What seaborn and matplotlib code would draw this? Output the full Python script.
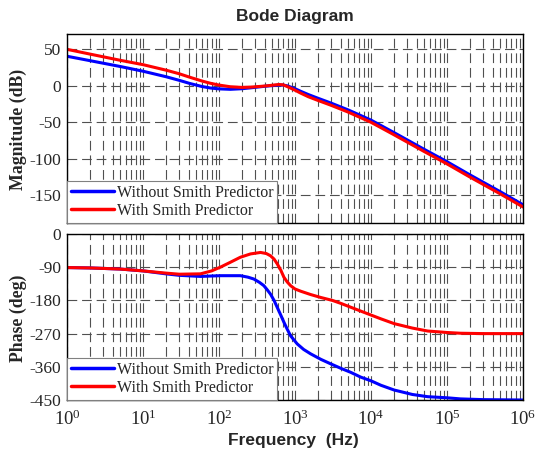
import numpy as np
import pandas as pd
import matplotlib
matplotlib.use("Agg")
import matplotlib.pyplot as plt
import matplotlib.ticker as mticker
import seaborn as sns

# magnitude (dB)
mag_freq_without = [1, 2, 5, 10, 20, 30, 42, 60, 77, 100, 141, 200, 260, 350, 431, 614, 700,
                    790, 1000, 1186, 1500, 2000, 2950, 5000, 1e4, 2e4, 5e4, 1e5, 2e5, 5e5, 1e6]
mag_without = [40.5, 34.5, 26.5, 20, 12.5, 7.5, 3, -1, -3, -4.2, -4.8, -4, -2.8, -1.3, -0.3,
               1, 1, 0, -4, -7.5, -12, -17, -23.5, -33, -47, -64, -87, -104, -122, -145, -163]
mag_freq_with = [1, 2, 5, 10, 20, 30, 42, 60, 77, 100, 141, 200, 260, 350, 431, 614, 700,
                 790, 1000, 1186, 1500, 2000, 2950, 5000, 1e4, 2e4, 5e4, 1e5, 2e5, 5e5, 1e6]
mag_with = [50, 43.5, 35, 29, 21.5, 16.5, 11.5, 6.5, 3.5, 1, -1.3, -2.2, -1.8, -0.8, 0, 1.8,
            1.3, -1, -6, -10, -15, -20, -26.5, -36, -50, -67, -90, -107, -125, -148, -166]

# phase (deg)
ph_freq_without = [1, 2, 5, 10, 20, 30, 57, 104, 191, 240, 287, 340, 389, 430, 476, 530, 584,
                   650, 714, 790, 875, 1070, 1300, 1610, 2200, 2950, 4000, 5410, 7330, 1e4,
                   13480, 20200, 35000, 55600, 1e5, 1.5e5, 3e5, 1e6]
ph_without = [-91, -92, -95, -100, -108, -112, -115, -113, -113, -117, -122, -131, -140, -151,
              -163, -180, -199, -220, -239, -258, -276, -298, -313, -325, -340, -352, -364,
              -375, -388, -398, -410, -423, -435, -441, -444, -447, -449, -450]
ph_freq_with = [1, 2, 5, 10, 20, 30, 57, 80, 104, 140, 191, 260, 352, 420, 476, 530, 584, 650,
                714, 790, 875, 1000, 1186, 1600, 2177, 3100, 4000, 7330, 13500, 20200, 35000,
                55600, 1e5, 1.5e5, 3e5, 1e6]
ph_with = [-91, -92, -95, -100, -106, -109, -108, -100, -90, -77, -63, -54, -50, -53, -59, -68,
           -81, -98, -117, -130, -140, -149, -155, -164, -172, -180, -188, -209, -230, -243,
           -255, -263, -267, -269, -270, -270]

decades = [1, 10, 100, 1e3, 1e4, 1e5, 1e6]
labels = ["Without Smith Predictor", "With Smith Predictor"]
colors = {"Without Smith Predictor": "#0000ff", "With Smith Predictor": "#ff0000"}

mag_df = pd.DataFrame({
    "f": mag_freq_without + mag_freq_with,
    "val": mag_without + mag_with,
    "series": [labels[0]] * len(mag_freq_without) + [labels[1]] * len(mag_freq_with),
})
ph_df = pd.DataFrame({
    "f": ph_freq_without + ph_freq_with,
    "val": ph_without + ph_with,
    "series": [labels[0]] * len(ph_freq_without) + [labels[1]] * len(ph_freq_with),
})

sns.set_theme(style="white")
plt.rcParams["font.family"] = ["Liberation Serif", "DejaVu Serif"]
plt.rcParams["mathtext.fontset"] = "stix"
plt.rcParams["axes.unicode_minus"] = False
plt.rcParams["lines.scale_dashes"] = False

fig = plt.figure(figsize=(5.36, 4.54), dpi=100)
W, H = 536, 454
ax1 = fig.add_axes([67 / W, 1 - 223 / H, (523 - 67) / W, (223 - 34) / H])
ax2 = fig.add_axes([67 / W, 1 - 400 / H, (523 - 67) / W, (400 - 234) / H])

grid_kw = dict(color="#505050", linestyle=(0, (7, 3.5)), linewidth=0.8)
minor_ticks = [d * k for d in decades[:-1] for k in range(2, 10)]


def style_axes(ax, yticks, ylim):
    ax.set_xscale("log")
    ax.set_xlim(1, 1e6)
    ax.set_ylim(*ylim)
    ax.set_yticks(yticks)
    ax.xaxis.set_major_locator(mticker.FixedLocator(decades))
    ax.xaxis.set_minor_locator(mticker.FixedLocator(minor_ticks))
    ax.xaxis.set_minor_formatter(mticker.NullFormatter())
    ax.grid(True, which="major", axis="both", **grid_kw)
    ax.grid(True, which="minor", axis="x", **grid_kw)
    ax.set_axisbelow(True)
    ax.tick_params(which="both", direction="in", length=0, labelsize=12.5, pad=4)
    ax.tick_params(axis="x", labelsize=13.5, pad=7)
    for s in ax.spines.values():
        s.set_color("black")
        s.set_linewidth(1.0)
    ax.set_xlabel("")
    ax.set_ylabel("")


for ax, df in [(ax1, mag_df), (ax2, ph_df)]:
    sns.lineplot(data=df, x="f", y="val", hue="series", palette=colors, hue_order=labels,
                 estimator=None, sort=True, linewidth=2.2, ax=ax, legend=False)

style_axes(ax1, [50, 0, -50, -100, -150], (-188, 71))
style_axes(ax2, [0, -90, -180, -270, -360, -450], (-450, 0))
ax1.tick_params(labelbottom=False)
ax2.xaxis.set_major_formatter(mticker.LogFormatterMathtext())

for ax in (ax1, ax2):
    handles = [plt.Line2D([], [], color=colors[l], linewidth=2.5) for l in labels]
    leg = ax.legend(handles, labels, loc="lower left", borderaxespad=0, fancybox=False,
                    framealpha=1, edgecolor="#808080", fontsize=11.5, handlelength=2.7,
                    handletextpad=0.15, borderpad=0.25, labelspacing=0.15)
    leg.get_frame().set_linewidth(0.8)

fig.text(295 / W, 1 - 17 / H, "Bode Diagram", ha="center", va="center",
         family=["Liberation Sans"], fontweight="bold", fontsize=12.5)
fig.text(293 / W, 1 - 440 / H, "Frequency  (Hz)", ha="center", va="center",
         family=["Liberation Sans"], fontweight="bold", fontsize=12.5)
fig.text(18 / W, 1 - 129 / H, "Magnitude (dB)", ha="center", va="center", rotation=90,
         fontweight="bold", fontsize=12.8)
fig.text(18 / W, 1 - 318 / H, "Phase (deg)", ha="center", va="center", rotation=90,
         fontweight="bold", fontsize=12.8)

fig.savefig("out.png", dpi=100)
